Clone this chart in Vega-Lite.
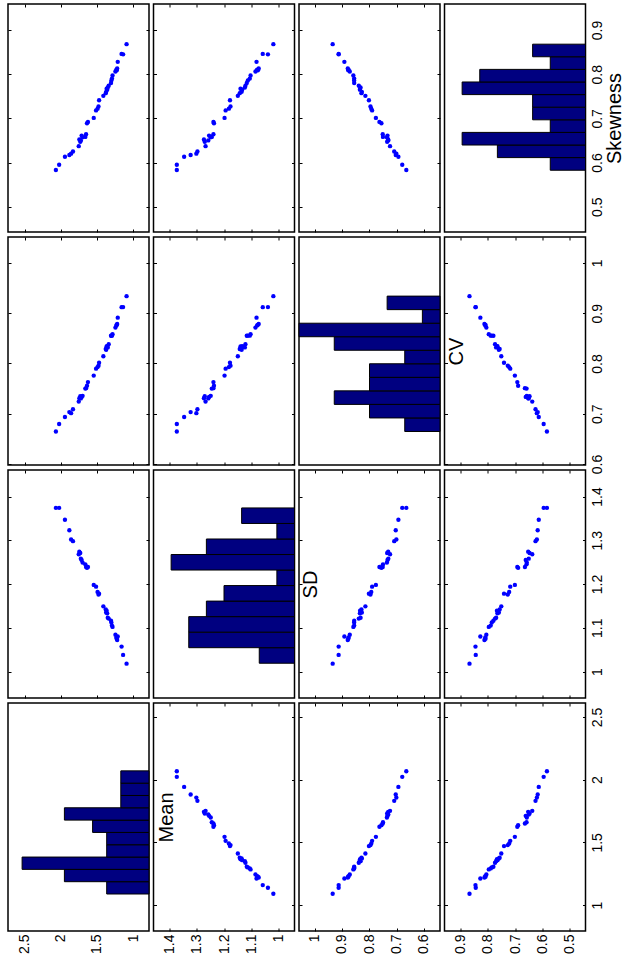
{
  "$schema": "https://vega.github.io/schema/vega-lite/v6.json",
  "background": "white",
  "padding": {"left": 6, "top": 2, "right": 0, "bottom": 0},
  "bounds": "flush",
  "columns": 4,
  "spacing": {"row": 5, "column": 4.5},
  "datasets": {
    "pts": [
      {"Mean":1.090,"SD":1.018,"CV":0.9339,"Skew":0.868},
      {"Mean":1.138,"SD":1.038,"CV":0.9121,"Skew":0.845},
      {"Mean":1.159,"SD":1.057,"CV":0.9120,"Skew":0.846},
      {"Mean":1.212,"SD":1.080,"CV":0.8911,"Skew":0.828},
      {"Mean":1.220,"SD":1.072,"CV":0.8787,"Skew":0.813},
      {"Mean":1.226,"SD":1.075,"CV":0.8768,"Skew":0.809},
      {"Mean":1.231,"SD":1.078,"CV":0.8757,"Skew":0.810},
      {"Mean":1.244,"SD":1.084,"CV":0.8714,"Skew":0.806},
      {"Mean":1.284,"SD":1.102,"CV":0.8583,"Skew":0.797},
      {"Mean":1.292,"SD":1.105,"CV":0.8553,"Skew":0.790},
      {"Mean":1.300,"SD":1.112,"CV":0.8554,"Skew":0.786},
      {"Mean":1.305,"SD":1.116,"CV":0.8552,"Skew":0.780},
      {"Mean":1.337,"SD":1.121,"CV":0.8384,"Skew":0.774},
      {"Mean":1.350,"SD":1.123,"CV":0.8319,"Skew":0.770},
      {"Mean":1.358,"SD":1.133,"CV":0.8343,"Skew":0.765},
      {"Mean":1.366,"SD":1.139,"CV":0.8338,"Skew":0.767},
      {"Mean":1.372,"SD":1.135,"CV":0.8273,"Skew":0.760},
      {"Mean":1.378,"SD":1.142,"CV":0.8287,"Skew":0.757},
      {"Mean":1.411,"SD":1.149,"CV":0.8143,"Skew":0.751},
      {"Mean":1.470,"SD":1.178,"CV":0.8014,"Skew":0.741},
      {"Mean":1.478,"SD":1.176,"CV":0.7957,"Skew":0.727},
      {"Mean":1.491,"SD":1.182,"CV":0.7928,"Skew":0.722},
      {"Mean":1.512,"SD":1.194,"CV":0.7897,"Skew":0.718},
      {"Mean":1.544,"SD":1.198,"CV":0.7759,"Skew":0.701},
      {"Mean":1.624,"SD":1.239,"CV":0.7629,"Skew":0.692},
      {"Mean":1.637,"SD":1.237,"CV":0.7557,"Skew":0.689},
      {"Mean":1.650,"SD":1.239,"CV":0.7509,"Skew":0.664},
      {"Mean":1.660,"SD":1.245,"CV":0.7500,"Skew":0.658},
      {"Mean":1.698,"SD":1.249,"CV":0.7356,"Skew":0.657},
      {"Mean":1.711,"SD":1.255,"CV":0.7335,"Skew":0.661},
      {"Mean":1.722,"SD":1.258,"CV":0.7305,"Skew":0.650},
      {"Mean":1.730,"SD":1.271,"CV":0.7347,"Skew":0.647},
      {"Mean":1.743,"SD":1.274,"CV":0.7309,"Skew":0.652},
      {"Mean":1.751,"SD":1.268,"CV":0.7242,"Skew":0.637},
      {"Mean":1.831,"SD":1.298,"CV":0.7089,"Skew":0.625},
      {"Mean":1.857,"SD":1.302,"CV":0.7011,"Skew":0.620},
      {"Mean":1.881,"SD":1.323,"CV":0.7033,"Skew":0.617},
      {"Mean":1.942,"SD":1.347,"CV":0.6936,"Skew":0.613},
      {"Mean":2.022,"SD":1.374,"CV":0.6795,"Skew":0.595},
      {"Mean":2.067,"SD":1.374,"CV":0.6647,"Skew":0.583}
    ],
    "hist": [
      {"var":"Mean","lo":1.088,"hi":1.1862,"count":3},
      {"var":"Mean","lo":1.1862,"hi":1.2844,"count":6},
      {"var":"Mean","lo":1.2844,"hi":1.3826,"count":9},
      {"var":"Mean","lo":1.3826,"hi":1.4808,"count":3},
      {"var":"Mean","lo":1.4808,"hi":1.579,"count":3},
      {"var":"Mean","lo":1.579,"hi":1.6772,"count":4},
      {"var":"Mean","lo":1.6772,"hi":1.7754,"count":6},
      {"var":"Mean","lo":1.7754,"hi":1.8736,"count":2},
      {"var":"Mean","lo":1.8736,"hi":1.9718,"count":2},
      {"var":"Mean","lo":1.9718,"hi":2.070,"count":2},
      {"var":"SD","lo":1.019,"hi":1.0545,"count":2},
      {"var":"SD","lo":1.0545,"hi":1.090,"count":6},
      {"var":"SD","lo":1.090,"hi":1.1255,"count":6},
      {"var":"SD","lo":1.1255,"hi":1.161,"count":5},
      {"var":"SD","lo":1.161,"hi":1.1965,"count":4},
      {"var":"SD","lo":1.1965,"hi":1.232,"count":1},
      {"var":"SD","lo":1.232,"hi":1.2675,"count":7},
      {"var":"SD","lo":1.2675,"hi":1.303,"count":5},
      {"var":"SD","lo":1.303,"hi":1.3385,"count":1},
      {"var":"SD","lo":1.3385,"hi":1.374,"count":3},
      {"var":"CV","lo":0.6647,"hi":0.6916,"count":2},
      {"var":"CV","lo":0.6916,"hi":0.7186,"count":4},
      {"var":"CV","lo":0.7186,"hi":0.7455,"count":6},
      {"var":"CV","lo":0.7455,"hi":0.7724,"count":4},
      {"var":"CV","lo":0.7724,"hi":0.7994,"count":4},
      {"var":"CV","lo":0.7994,"hi":0.8263,"count":2},
      {"var":"CV","lo":0.8263,"hi":0.8532,"count":6},
      {"var":"CV","lo":0.8532,"hi":0.8801,"count":8},
      {"var":"CV","lo":0.8801,"hi":0.9071,"count":1},
      {"var":"CV","lo":0.9071,"hi":0.934,"count":3},
      {"var":"Skew","lo":0.5825,"hi":0.6111,"count":2},
      {"var":"Skew","lo":0.6111,"hi":0.6396,"count":5},
      {"var":"Skew","lo":0.6396,"hi":0.6682,"count":7},
      {"var":"Skew","lo":0.6682,"hi":0.6967,"count":2},
      {"var":"Skew","lo":0.6967,"hi":0.7253,"count":3},
      {"var":"Skew","lo":0.7253,"hi":0.7538,"count":3},
      {"var":"Skew","lo":0.7538,"hi":0.7824,"count":7},
      {"var":"Skew","lo":0.7824,"hi":0.8109,"count":6},
      {"var":"Skew","lo":0.8109,"hi":0.8395,"count":2},
      {"var":"Skew","lo":0.8395,"hi":0.868,"count":3}
    ]
  },
  "concat": [
    {"width":141,"height":228,"data":{"name":"pts"},
     "layer":[
      {"mark":{"type":"circle","size":19,"color":"#0000FF","opacity":1},
       "encoding":{
        "x":{"field":"Mean","type":"quantitative","title":null,"scale":{"domain":[0.78,2.729],"reverse":true,"nice":false,"zero":false},"axis":{"orient":"bottom","values":[1,1.5,2,2.5],"labels":false}},
        "y":{"field":"Skew","type":"quantitative","title":null,"scale":{"domain":[0.4426,0.959],"nice":false,"zero":false},"axis":{"orient":"left","values":[0.5,0.6,0.7,0.8,0.9],"labels":false}}}},
      {"mark":{"type":"circle","opacity":0},
       "encoding":{
        "x":{"field":"Mean","type":"quantitative","title":null,"axis":{"orient":"top","values":[1,1.5,2,2.5],"labels":false}},
        "y":{"field":"Skew","type":"quantitative","title":null,"axis":{"orient":"right","values":[0.5,0.6,0.7,0.8,0.9],"labels":false}}}}
     ],
     "resolve":{"axis":{"x":"independent","y":"independent"}}},
    {"width":141,"height":228,"data":{"name":"pts"},
     "layer":[
      {"mark":{"type":"circle","size":19,"color":"#0000FF","opacity":1},
       "encoding":{
        "x":{"field":"SD","type":"quantitative","title":null,"scale":{"domain":[0.94,1.46],"reverse":true,"nice":false,"zero":false},"axis":{"orient":"bottom","values":[1,1.1,1.2,1.3,1.4],"labels":false}},
        "y":{"field":"Skew","type":"quantitative","title":null,"scale":{"domain":[0.4426,0.959],"nice":false,"zero":false},"axis":{"orient":"left","values":[0.5,0.6,0.7,0.8,0.9],"labels":false}}}},
      {"mark":{"type":"circle","opacity":0},
       "encoding":{
        "x":{"field":"SD","type":"quantitative","title":null,"axis":{"orient":"top","values":[1,1.1,1.2,1.3,1.4],"labels":false}},
        "y":{"field":"Skew","type":"quantitative","title":null,"axis":{"orient":"right","values":[0.5,0.6,0.7,0.8,0.9],"labels":false}}}}
     ],
     "resolve":{"axis":{"x":"independent","y":"independent"}}},
    {"width":141,"height":228,"data":{"name":"pts"},
     "layer":[
      {"mark":{"type":"circle","size":19,"color":"#0000FF","opacity":1},
       "encoding":{
        "x":{"field":"CV","type":"quantitative","title":null,"scale":{"domain":[0.5415,1.057],"reverse":true,"nice":false,"zero":false},"axis":{"orient":"bottom","values":[0.6,0.7,0.8,0.9,1],"labels":false}},
        "y":{"field":"Skew","type":"quantitative","title":null,"scale":{"domain":[0.4426,0.959],"nice":false,"zero":false},"axis":{"orient":"left","values":[0.5,0.6,0.7,0.8,0.9],"labels":false}}}},
      {"mark":{"type":"circle","opacity":0},
       "encoding":{
        "x":{"field":"CV","type":"quantitative","title":null,"axis":{"orient":"top","values":[0.6,0.7,0.8,0.9,1],"labels":false}},
        "y":{"field":"Skew","type":"quantitative","title":null,"axis":{"orient":"right","values":[0.5,0.6,0.7,0.8,0.9],"labels":false}}}}
     ],
     "resolve":{"axis":{"x":"independent","y":"independent"}}},
    {"width":141,"height":228,"data":{"name":"hist"},
     "transform":[{"filter":"datum.var === 'Skew'"}],
     "mark":{"type":"rect","fill":"#000080","stroke":"#000000","strokeWidth":1},
     "encoding":{
      "x":{"field":"count","type":"quantitative","title":null,"scale":{"domain":[0,8],"reverse":true,"nice":false,"zero":false},"axis":null},
      "x2":{"datum":0},
      "y":{"field":"lo","type":"quantitative","scale":{"domain":[0.4426,0.959],"nice":false,"zero":false},"axis":{"orient":"right","values":[0.5,0.6,0.7,0.8,0.9],"format":"~g","labels":true,"tickOpacity":0,"title":"Skewness","titleAngle":270,"titleBaseline":"top","titlePadding":0}},
      "y2":{"field":"hi"}}},

    {"width":141,"height":228,"data":{"name":"pts"},
     "layer":[
      {"mark":{"type":"circle","size":19,"color":"#0000FF","opacity":1},
       "encoding":{
        "x":{"field":"Mean","type":"quantitative","title":null,"scale":{"domain":[0.78,2.729],"reverse":true,"nice":false,"zero":false},"axis":{"orient":"bottom","values":[1,1.5,2,2.5],"labels":false}},
        "y":{"field":"CV","type":"quantitative","title":null,"scale":{"domain":[0.598,1.0516],"nice":false,"zero":false},"axis":{"orient":"left","values":[0.6,0.7,0.8,0.9,1],"labels":false}}}},
      {"mark":{"type":"circle","opacity":0},
       "encoding":{
        "x":{"field":"Mean","type":"quantitative","title":null,"axis":{"orient":"top","values":[1,1.5,2,2.5],"labels":false}},
        "y":{"field":"CV","type":"quantitative","title":null,"axis":{"orient":"right","values":[0.6,0.7,0.8,0.9,1],"labels":false}}}}
     ],
     "resolve":{"axis":{"x":"independent","y":"independent"}}},
    {"width":141,"height":228,"data":{"name":"pts"},
     "layer":[
      {"mark":{"type":"circle","size":19,"color":"#0000FF","opacity":1},
       "encoding":{
        "x":{"field":"SD","type":"quantitative","title":null,"scale":{"domain":[0.94,1.46],"reverse":true,"nice":false,"zero":false},"axis":{"orient":"bottom","values":[1,1.1,1.2,1.3,1.4],"labels":false}},
        "y":{"field":"CV","type":"quantitative","title":null,"scale":{"domain":[0.598,1.0516],"nice":false,"zero":false},"axis":{"orient":"left","values":[0.6,0.7,0.8,0.9,1],"labels":false}}}},
      {"mark":{"type":"circle","opacity":0},
       "encoding":{
        "x":{"field":"SD","type":"quantitative","title":null,"axis":{"orient":"top","values":[1,1.1,1.2,1.3,1.4],"labels":false}},
        "y":{"field":"CV","type":"quantitative","title":null,"axis":{"orient":"right","values":[0.6,0.7,0.8,0.9,1],"labels":false}}}}
     ],
     "resolve":{"axis":{"x":"independent","y":"independent"}}},
    {"width":141,"height":228,"data":{"name":"hist"},
     "transform":[{"filter":"datum.var === 'CV'"}],
     "mark":{"type":"rect","fill":"#000080","stroke":"#000000","strokeWidth":1},
     "encoding":{
      "x":{"field":"count","type":"quantitative","title":null,"scale":{"domain":[0,8],"reverse":true,"nice":false,"zero":false},"axis":null},
      "x2":{"datum":0},
      "y":{"field":"lo","type":"quantitative","scale":{"domain":[0.598,1.0516],"nice":false,"zero":false},"axis":{"orient":"right","labels":false,"ticks":false,"title":"CV","titleAngle":270,"titleBaseline":"top","titlePadding":6}},
      "y2":{"field":"hi"}}},
    {"width":141,"height":228,"data":{"name":"pts"},
     "layer":[
      {"mark":{"type":"circle","size":19,"color":"#0000FF","opacity":1},
       "encoding":{
        "x":{"field":"Skew","type":"quantitative","title":null,"scale":{"domain":[0.441,0.96],"reverse":true,"nice":false,"zero":false},"axis":{"orient":"bottom","values":[0.5,0.6,0.7,0.8,0.9],"labels":false}},
        "y":{"field":"CV","type":"quantitative","title":null,"scale":{"domain":[0.598,1.0516],"nice":false,"zero":false},"axis":{"orient":"left","values":[0.6,0.7,0.8,0.9,1],"labels":false}}}},
      {"mark":{"type":"circle","opacity":0},
       "encoding":{
        "x":{"field":"Skew","type":"quantitative","title":null,"axis":{"orient":"top","values":[0.5,0.6,0.7,0.8,0.9],"labels":false}},
        "y":{"field":"CV","type":"quantitative","title":null,"axis":{"orient":"right","values":[0.6,0.7,0.8,0.9,1],"format":"~g","labels":true}}}}
     ],
     "resolve":{"axis":{"x":"independent","y":"independent"}}},

    {"width":141,"height":228,"data":{"name":"pts"},
     "layer":[
      {"mark":{"type":"circle","size":19,"color":"#0000FF","opacity":1},
       "encoding":{
        "x":{"field":"Mean","type":"quantitative","title":null,"scale":{"domain":[0.78,2.729],"reverse":true,"nice":false,"zero":false},"axis":{"orient":"bottom","values":[1,1.5,2,2.5],"labels":false}},
        "y":{"field":"SD","type":"quantitative","title":null,"scale":{"domain":[0.9395,1.4607],"nice":false,"zero":false},"axis":{"orient":"left","values":[1,1.1,1.2,1.3,1.4],"labels":false}}}},
      {"mark":{"type":"circle","opacity":0},
       "encoding":{
        "x":{"field":"Mean","type":"quantitative","title":null,"axis":{"orient":"top","values":[1,1.5,2,2.5],"labels":false}},
        "y":{"field":"SD","type":"quantitative","title":null,"axis":{"orient":"right","values":[1,1.1,1.2,1.3,1.4],"labels":false}}}}
     ],
     "resolve":{"axis":{"x":"independent","y":"independent"}}},
    {"width":141,"height":228,"data":{"name":"hist"},
     "transform":[{"filter":"datum.var === 'SD'"}],
     "mark":{"type":"rect","fill":"#000080","stroke":"#000000","strokeWidth":1},
     "encoding":{
      "x":{"field":"count","type":"quantitative","title":null,"scale":{"domain":[0,8],"reverse":true,"nice":false,"zero":false},"axis":null},
      "x2":{"datum":0},
      "y":{"field":"lo","type":"quantitative","scale":{"domain":[0.9395,1.4607],"nice":false,"zero":false},"axis":{"orient":"right","labels":false,"ticks":false,"title":"SD","titleAngle":270,"titleBaseline":"top","titlePadding":6}},
      "y2":{"field":"hi"}}},
    {"width":141,"height":228,"data":{"name":"pts"},
     "layer":[
      {"mark":{"type":"circle","size":19,"color":"#0000FF","opacity":1},
       "encoding":{
        "x":{"field":"CV","type":"quantitative","title":null,"scale":{"domain":[0.5415,1.057],"reverse":true,"nice":false,"zero":false},"axis":{"orient":"bottom","values":[0.6,0.7,0.8,0.9,1],"labels":false}},
        "y":{"field":"SD","type":"quantitative","title":null,"scale":{"domain":[0.9395,1.4607],"nice":false,"zero":false},"axis":{"orient":"left","values":[1,1.1,1.2,1.3,1.4],"labels":false}}}},
      {"mark":{"type":"circle","opacity":0},
       "encoding":{
        "x":{"field":"CV","type":"quantitative","title":null,"axis":{"orient":"top","values":[0.6,0.7,0.8,0.9,1],"labels":false}},
        "y":{"field":"SD","type":"quantitative","title":null,"axis":{"orient":"right","values":[1,1.1,1.2,1.3,1.4],"labels":false}}}}
     ],
     "resolve":{"axis":{"x":"independent","y":"independent"}}},
    {"width":141,"height":228,"data":{"name":"pts"},
     "layer":[
      {"mark":{"type":"circle","size":19,"color":"#0000FF","opacity":1},
       "encoding":{
        "x":{"field":"Skew","type":"quantitative","title":null,"scale":{"domain":[0.441,0.96],"reverse":true,"nice":false,"zero":false},"axis":{"orient":"bottom","values":[0.5,0.6,0.7,0.8,0.9],"labels":false}},
        "y":{"field":"SD","type":"quantitative","title":null,"scale":{"domain":[0.9395,1.4607],"nice":false,"zero":false},"axis":{"orient":"left","values":[1,1.1,1.2,1.3,1.4],"labels":false}}}},
      {"mark":{"type":"circle","opacity":0},
       "encoding":{
        "x":{"field":"Skew","type":"quantitative","title":null,"axis":{"orient":"top","values":[0.5,0.6,0.7,0.8,0.9],"labels":false}},
        "y":{"field":"SD","type":"quantitative","title":null,"axis":{"orient":"right","values":[1,1.1,1.2,1.3,1.4],"format":"~g","labels":true}}}}
     ],
     "resolve":{"axis":{"x":"independent","y":"independent"}}},

    {"width":141,"height":228,
     "layer":[
      {"data":{"name":"hist"},
       "transform":[{"filter":"datum.var === 'Mean'"}],
       "mark":{"type":"rect","fill":"#000080","stroke":"#000000","strokeWidth":1},
       "encoding":{
        "x":{"field":"count","type":"quantitative","title":null,"scale":{"domain":[0,10],"reverse":true,"nice":false,"zero":false},"axis":null},
        "x2":{"datum":0},
        "y":{"field":"lo","type":"quantitative","scale":{"domain":[0.793,2.611],"nice":false,"zero":false},"axis":{"orient":"right","labels":false,"ticks":false,"title":"Mean","titleAngle":270,"titleBaseline":"top","titlePadding":7}},
        "y2":{"field":"hi"}}},
      {"data":{"name":"pts"},
       "mark":{"type":"circle","opacity":0},
       "encoding":{
        "x":{"field":"Mean","type":"quantitative","title":null,"scale":{"domain":[0.78,2.729],"reverse":true,"nice":false,"zero":false},"axis":{"orient":"bottom","values":[1,1.5,2,2.5],"format":"~g","labels":true,"tickOpacity":0}}}}
     ],
     "resolve":{"scale":{"x":"independent"},"axis":{"x":"independent"}}},
    {"width":141,"height":228,"data":{"name":"pts"},
     "layer":[
      {"mark":{"type":"circle","size":19,"color":"#0000FF","opacity":1},
       "encoding":{
        "x":{"field":"SD","type":"quantitative","title":null,"scale":{"domain":[0.94,1.46],"reverse":true,"nice":false,"zero":false},"axis":{"orient":"bottom","values":[1,1.1,1.2,1.3,1.4],"format":"~g","labels":true}},
        "y":{"field":"Mean","type":"quantitative","title":null,"scale":{"domain":[0.793,2.611],"nice":false,"zero":false},"axis":{"orient":"left","values":[1,1.5,2,2.5],"labels":false}}}},
      {"mark":{"type":"circle","opacity":0},
       "encoding":{
        "x":{"field":"SD","type":"quantitative","title":null,"axis":{"orient":"top","values":[1,1.1,1.2,1.3,1.4],"labels":false}},
        "y":{"field":"Mean","type":"quantitative","title":null,"axis":{"orient":"right","values":[1,1.5,2,2.5],"labels":false}}}}
     ],
     "resolve":{"axis":{"x":"independent","y":"independent"}}},
    {"width":141,"height":228,"data":{"name":"pts"},
     "layer":[
      {"mark":{"type":"circle","size":19,"color":"#0000FF","opacity":1},
       "encoding":{
        "x":{"field":"CV","type":"quantitative","title":null,"scale":{"domain":[0.5415,1.057],"reverse":true,"nice":false,"zero":false},"axis":{"orient":"bottom","values":[0.6,0.7,0.8,0.9,1],"format":"~g","labels":true}},
        "y":{"field":"Mean","type":"quantitative","title":null,"scale":{"domain":[0.793,2.611],"nice":false,"zero":false},"axis":{"orient":"left","values":[1,1.5,2,2.5],"labels":false}}}},
      {"mark":{"type":"circle","opacity":0},
       "encoding":{
        "x":{"field":"CV","type":"quantitative","title":null,"axis":{"orient":"top","values":[0.6,0.7,0.8,0.9,1],"labels":false}},
        "y":{"field":"Mean","type":"quantitative","title":null,"axis":{"orient":"right","values":[1,1.5,2,2.5],"labels":false}}}}
     ],
     "resolve":{"axis":{"x":"independent","y":"independent"}}},
    {"width":141,"height":228,"data":{"name":"pts"},
     "layer":[
      {"mark":{"type":"circle","size":19,"color":"#0000FF","opacity":1},
       "encoding":{
        "x":{"field":"Skew","type":"quantitative","title":null,"scale":{"domain":[0.441,0.96],"reverse":true,"nice":false,"zero":false},"axis":{"orient":"bottom","values":[0.5,0.6,0.7,0.8,0.9],"format":"~g","labels":true}},
        "y":{"field":"Mean","type":"quantitative","title":null,"scale":{"domain":[0.793,2.611],"nice":false,"zero":false},"axis":{"orient":"left","values":[1,1.5,2,2.5],"labels":false}}}},
      {"mark":{"type":"circle","opacity":0},
       "encoding":{
        "x":{"field":"Skew","type":"quantitative","title":null,"axis":{"orient":"top","values":[0.5,0.6,0.7,0.8,0.9],"labels":false}},
        "y":{"field":"Mean","type":"quantitative","title":null,"axis":{"orient":"right","values":[1,1.5,2,2.5],"format":"~g","labels":true}}}}
     ],
     "resolve":{"axis":{"x":"independent","y":"independent"}}}
  ],
  "config": {
    "view": {"stroke": "#000000", "strokeWidth": 1.5},
    "axis": {
      "domain": false, "grid": false,
      "tickSize": -3, "tickColor": "#000000", "tickWidth": 1,
      "labelFont": "Liberation Sans", "labelFontSize": 14, "labelColor": "#000000",
      "labelAngle": 270, "labelOverlap": false, "labelFlush": false, "labelBound": false,
      "titleFont": "Liberation Sans", "titleFontSize": 20, "titleFontWeight": "normal", "titleColor": "#000000"
    },
    "axisBottom": {"labelAlign": "right", "labelBaseline": "middle", "labelPadding": 6},
    "axisRight": {"labelAlign": "center", "labelBaseline": "top", "labelPadding": 8}
  }
}
